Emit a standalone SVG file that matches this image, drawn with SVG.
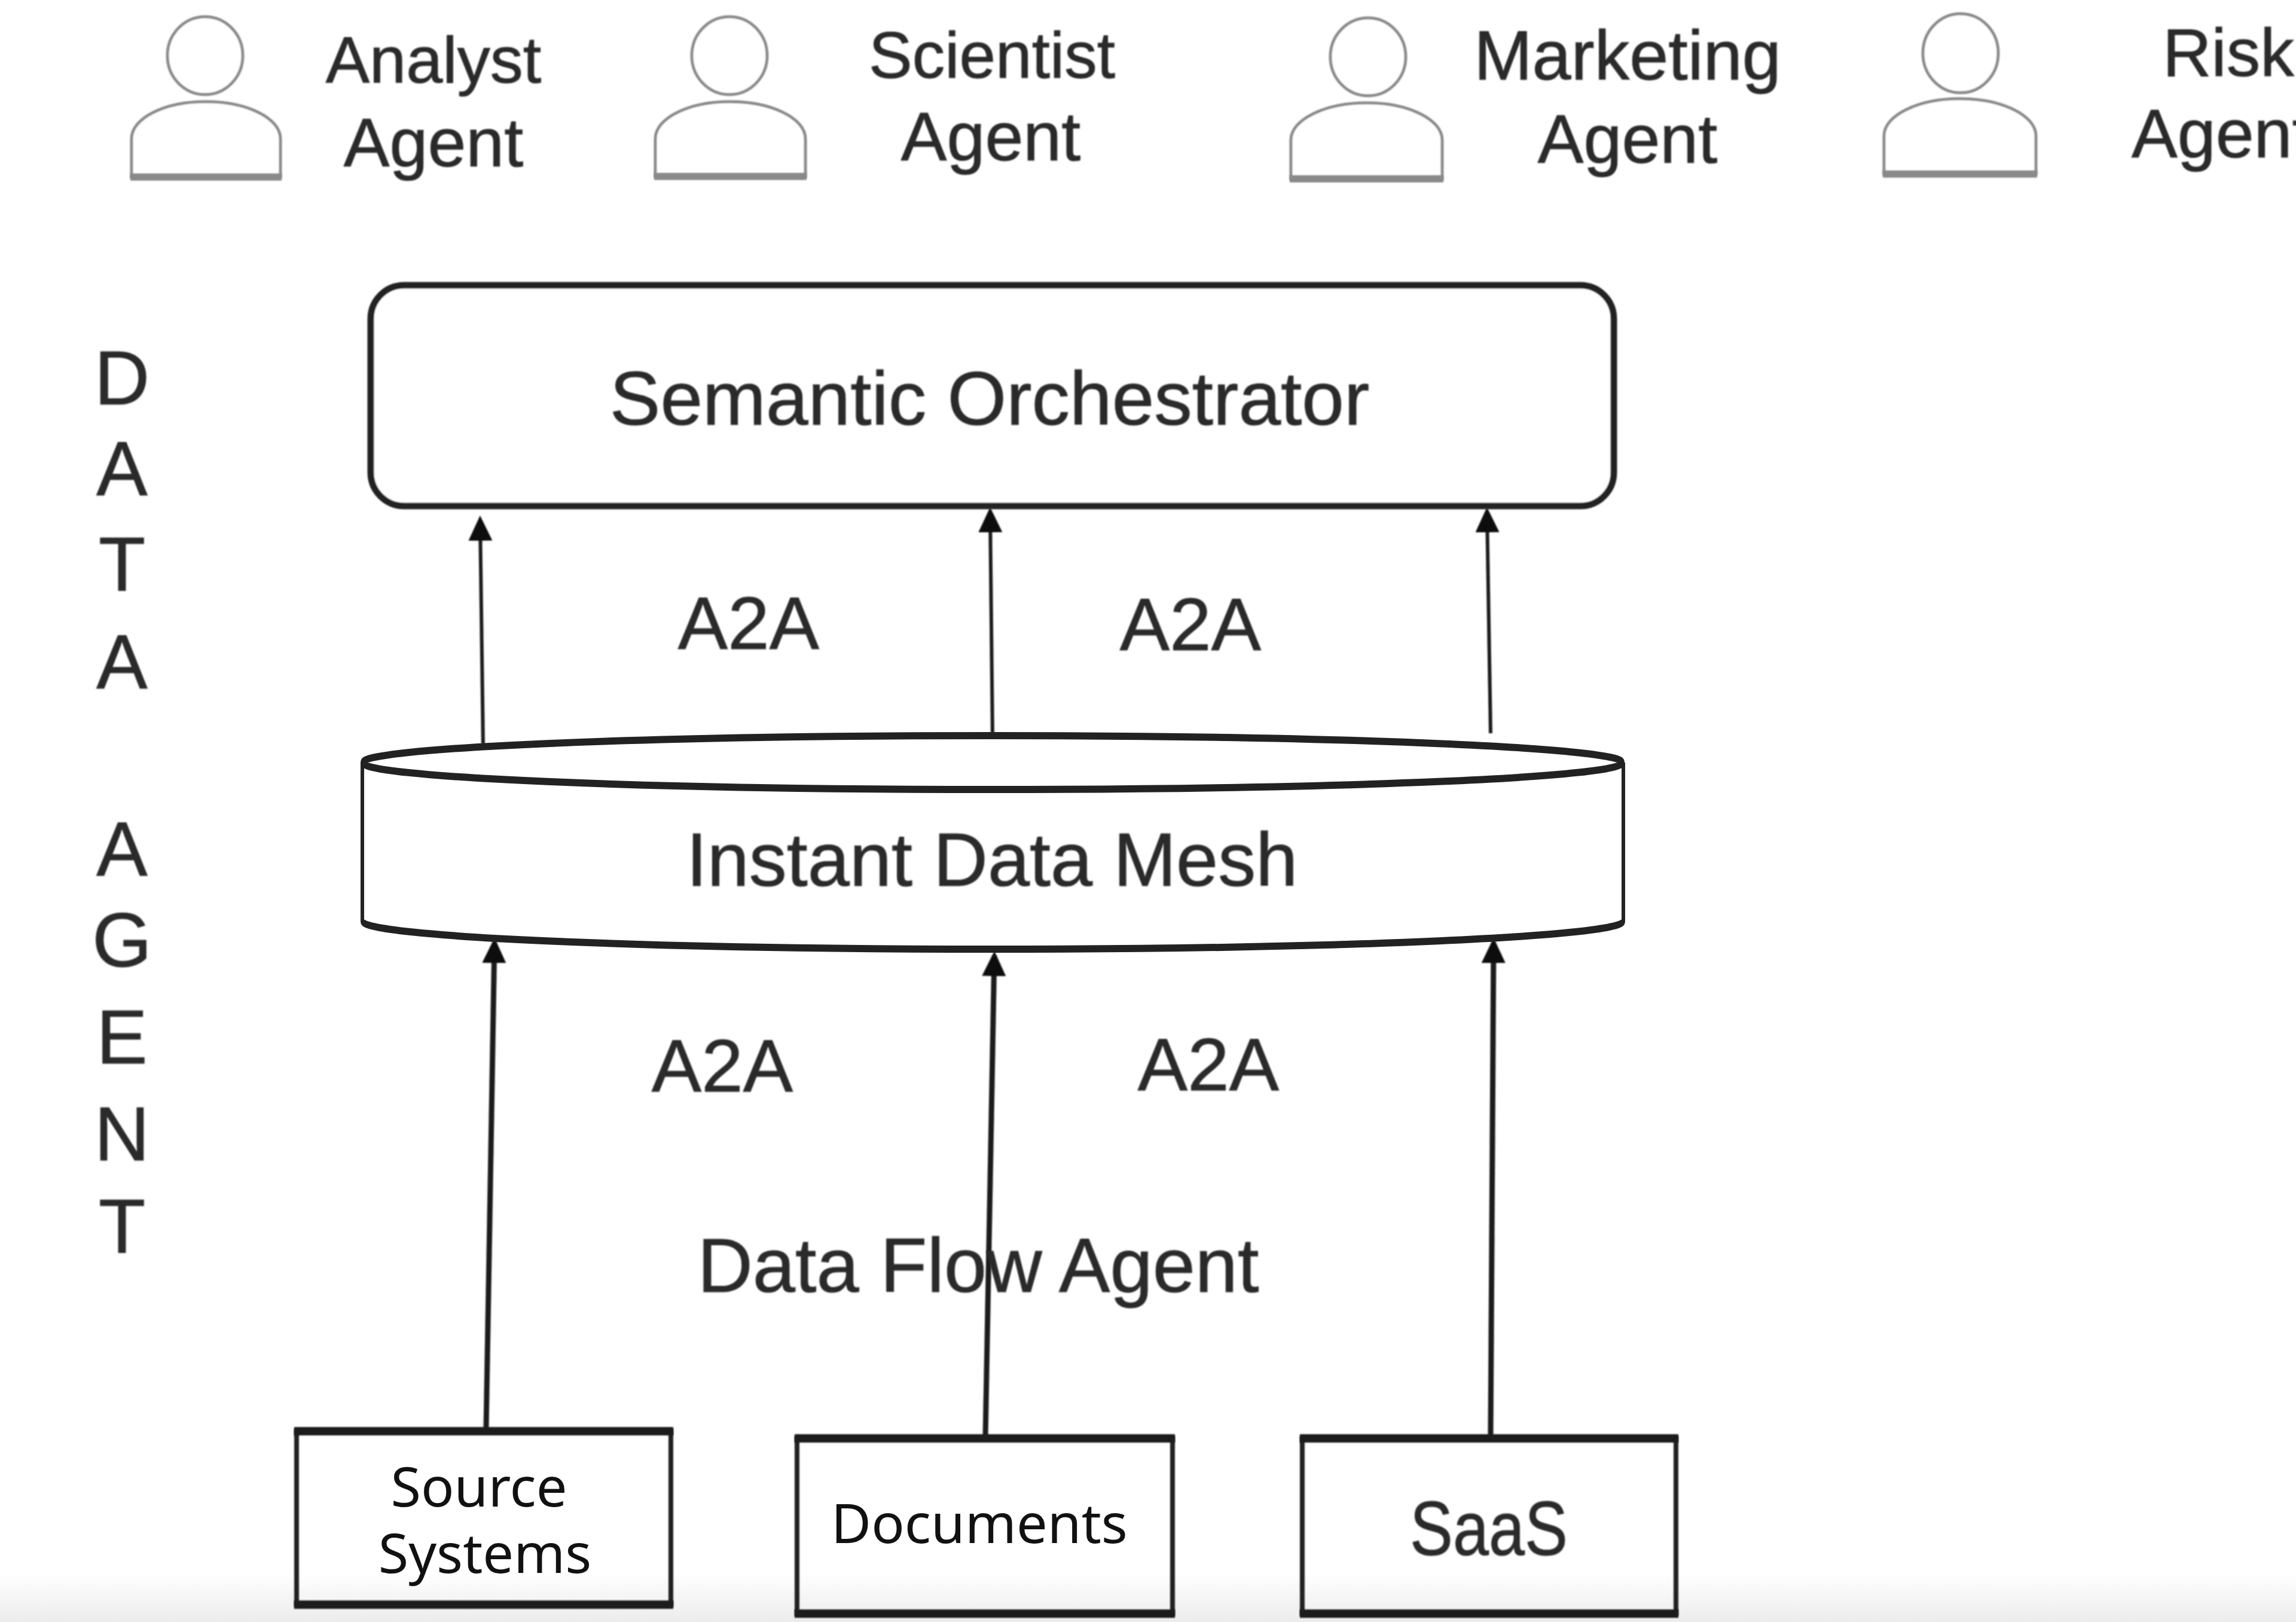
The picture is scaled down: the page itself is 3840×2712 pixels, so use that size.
<svg xmlns="http://www.w3.org/2000/svg" width="3840" height="2712" viewBox="0 0 3840 2712">
<style>
text{font-family:"Liberation Sans",Arial,sans-serif;fill:#2a2a2a;text-anchor:middle;stroke:#2a2a2a;stroke-width:1;filter:url(#s)}
text.noto{font-family:"Noto Sans","Noto Sans CJK SC",sans-serif;fill:#111;stroke:none;font-size:92px;filter:none}
.p{fill:#fff;stroke:#8a8a8a;stroke-width:5;filter:url(#s)}
.f{fill:#8a8a8a;filter:url(#s)}
.n{fill:#fff;stroke:#222;stroke-width:6}
.c{stroke:#1c1c1c;fill:none;marker-end:url(#a);filter:url(#s)}
.u{stroke-width:6}
.d{stroke-width:9}
.b{fill:none;stroke:#222;stroke-width:8;filter:url(#s)}
.t{stroke:#1e1e1e;stroke-width:14;fill:none;filter:url(#s)}
.r{fill:#fff;stroke:#222;stroke-width:11;filter:url(#s)}
</style>
<defs>
<filter id="s" filterUnits="userSpaceOnUse" x="0" y="0" width="3840" height="2712"><feGaussianBlur stdDeviation="1.3"/></filter>
<linearGradient id="g" x1="0" y1="0" x2="0" y2="1"><stop offset="0" stop-color="#fff"/><stop offset="1" stop-color="#ececec"/></linearGradient>
<marker id="a" markerUnits="userSpaceOnUse" markerWidth="44" markerHeight="42" refX="34" refY="20" orient="auto"><path d="M0 0L42 20L0 40Z" fill="#0c0c0c"/></marker>
</defs>
<rect width="3840" height="2712" fill="#fff"/>
<rect y="2630" width="3840" height="82" fill="url(#g)"/>
<g id="analyst-agent">
<ellipse class="p" cx="343" cy="93" rx="63" ry="65"/><path class="p" d="M220 296V232C220 198 274 170 344 170C414 170 469 198 469 232V296Z"/><rect class="f" x="218" y="290" width="253" height="12"/>
<text font-size="110" x="725" y="138">Analyst</text><text font-size="115" x="725" y="278">Agent</text>
</g>
<g id="scientist-agent">
<ellipse class="p" cx="1220" cy="93" rx="63" ry="65"/><path class="p" d="M1096 295V232C1096 198 1151 170 1221 170C1291 170 1347 198 1347 232V295Z"/><rect class="f" x="1094" y="289" width="255" height="12"/>
<text font-size="109" x="1659" y="130">Scientist</text><text font-size="115" x="1657" y="268">Agent</text>
</g>
<g id="marketing-agent">
<ellipse class="p" cx="2288" cy="95" rx="63" ry="65"/><path class="p" d="M2159 299V234C2159 200 2216 172 2286 172C2356 172 2412 200 2412 234V299Z"/><rect class="f" x="2157" y="293" width="257" height="12"/>
<text font-size="117" x="2722" y="133">Marketing</text><text font-size="115" x="2722" y="272">Agent</text>
</g>
<g id="risk-agent">
<ellipse class="p" cx="3279" cy="89" rx="63" ry="66"/><path class="p" d="M3151 291V227C3151 193 3208 165 3278 165C3348 165 3405 193 3405 227V291Z"/><rect class="f" x="3149" y="285" width="258" height="12"/>
<text font-size="113" x="3617" y="127" style="text-anchor:start">Risk</text><text font-size="115" x="3565" y="263" style="text-anchor:start">Agent</text>
</g>
<g id="data-agent-label">
<text font-size="128" x="204"><tspan x="204" y="676">D</tspan><tspan x="204" y="828">A</tspan><tspan x="204" y="987">T</tspan><tspan x="204" y="1151">A</tspan><tspan x="204" y="1464">A</tspan><tspan x="204" y="1616">G</tspan><tspan x="204" y="1778">E</tspan><tspan x="204" y="1940">N</tspan><tspan x="204" y="2094">T</tspan></text>
</g>
<g id="connectors">
<path class="c u" d="M808 1244L803 870"/><path class="c u" d="M1660 1232L1656 856"/><path class="c u" d="M2493 1226L2487 856"/>
<path class="c d" d="M813 2390L827 1576"/><path class="c d" d="M1648 2405L1663 1598"/><path class="c d" d="M2493 2405L2498 1576"/>
</g>
<g id="semantic-orchestrator">
<rect class="r" x="620" y="477" width="2079" height="369" rx="56" ry="56"/>
<text font-size="127" x="1655" y="710">Semantic Orchestrator</text>
</g>
<g id="instant-data-mesh">
<g transform="scale(1 2)"><path class="n" d="M606 637.5V770C606 783 1078 793.5 1660 793.5S2715 783 2715 770V637.5"/><ellipse class="n" cx="1660" cy="637.5" rx="1054" ry="22.5"/></g>
<text font-size="126" x="1659" y="1481">Instant Data Mesh</text>
</g>
<text id="data-flow-agent" font-size="128" x="1636" y="2160">Data Flow Agent</text>
<g id="a2a-labels">
<text font-size="125" x="1252" y="1085">A2A</text><text font-size="125" x="1991" y="1087">A2A</text><text font-size="125" x="1208" y="1825">A2A</text><text font-size="125" x="2021" y="1823">A2A</text>
</g>
<g id="source-systems">
<rect class="b" x="496" y="2393" width="626" height="290"/><path class="t" d="M492 2393H1126M492 2683H1126"/>
<text class="noto" x="801" y="2519">Source</text><text class="noto" x="811" y="2630">Systems</text>
</g>
<g id="documents">
<rect class="b" x="1333" y="2405" width="628" height="293"/><path class="t" d="M1329 2405H1965M1329 2698H1965"/>
<text class="noto" x="1638" y="2580">Documents</text>
</g>
<g id="saas">
<rect class="b" x="2178" y="2405" width="625" height="293"/><path class="t" d="M2174 2405H2807M2174 2698H2807"/>
<text font-size="128" x="2490" y="2600" textLength="264" lengthAdjust="spacingAndGlyphs">SaaS</text>
</g>
</svg>
